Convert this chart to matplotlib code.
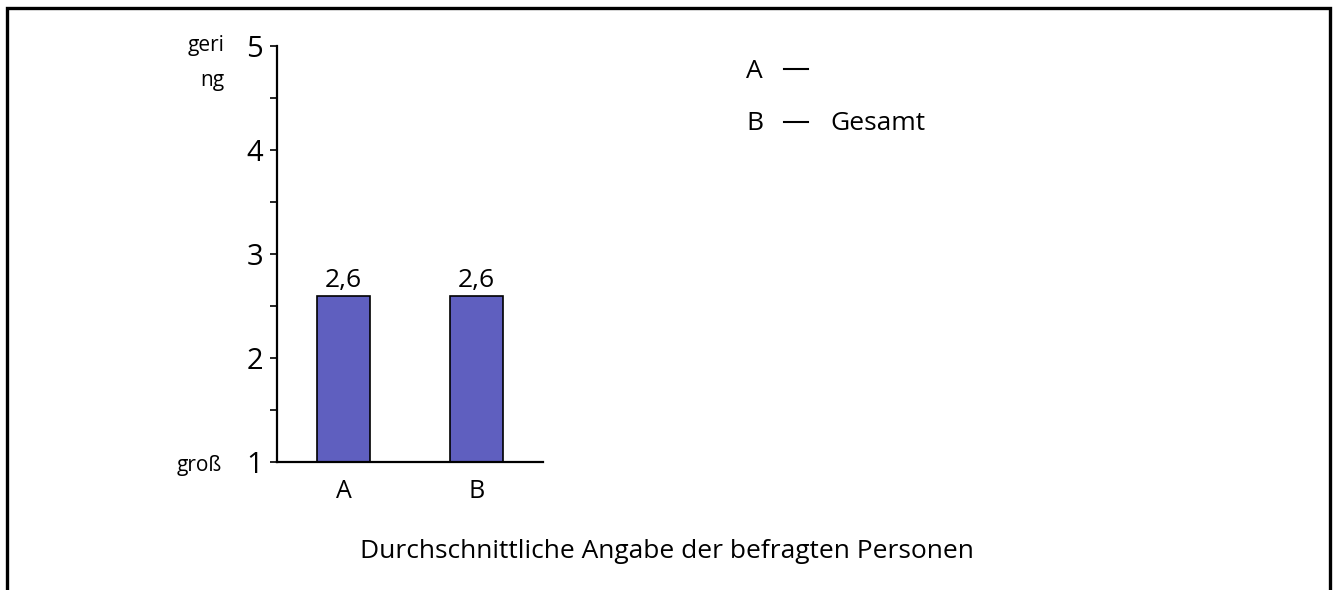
import matplotlib.pyplot as plt
from matplotlib.lines import Line2D

plt.rcParams['font.family'] = ['Open Sans', 'DejaVu Sans']

# Daten
categories = ['A', 'B']
values = [2.6, 2.6]
value_labels = ['2,6', '2,6']
legend_keys = ['A', 'B']
legend_names = ['', 'Gesamt']
y_ticks = [1, 2, 3, 4, 5]

fig = plt.figure(figsize=(13.37, 5.9), dpi=100)
ax = fig.add_axes([0.2072, 0.2169, 0.1989, 0.705])

x = list(range(len(categories)))
ax.bar(x, [v - 1 for v in values], bottom=1, width=0.4,
       color='#5f5fbf', edgecolor='black', linewidth=1.2)

for xi, v, lab in zip(x, values, value_labels):
    ax.text(xi, v + 0.03, lab, ha='center', va='bottom', fontsize=19)

ax.set_xlim(-0.5, 1.5)
ax.set_ylim(1, 5)
ax.set_xticks(x)
ax.set_xticklabels(categories, fontsize=18)
ax.set_yticks(y_ticks)
ax.set_yticklabels([str(t) for t in y_ticks], fontsize=21)
ax.set_yticks([1.5, 2.5, 3.5, 4.5], minor=True)
ax.tick_params(axis='x', length=0, pad=12)
ax.tick_params(axis='y', which='both', length=5, width=1.2, pad=5)

for s in ['top', 'right']:
    ax.spines[s].set_visible(False)
ax.spines['left'].set_linewidth(1.6)
ax.spines['bottom'].set_linewidth(1.6)

# Skalenbeschriftung links
fig.text(224 / 1337, 1 - 46 / 590, 'geri', ha='right', va='center', fontsize=15)
fig.text(224 / 1337, 1 - 81 / 590, 'ng', ha='right', va='center', fontsize=15)
fig.text(222 / 1337, 1 - 465 / 590, 'groß', ha='right', va='center', fontsize=15)

# Legende als Text
for i, (k, n) in enumerate(zip(legend_keys, legend_names)):
    yy = 1 - (71 + i * 53) / 590
    fig.text(746 / 1337, yy, k, ha='left', va='center', fontsize=19)
    fig.add_artist(Line2D([784 / 1337, 808 / 1337], [yy + 0.003, yy + 0.003],
                          transform=fig.transFigure, color='black', lw=1.5))
    if n:
        fig.text(830 / 1337, yy, n, ha='left', va='center', fontsize=19)

fig.text(667 / 1337, 1 - 551 / 590, 'Durchschnittliche Angabe der befragten Personen',
         ha='center', va='center', fontsize=19)

# Rahmen (nach unten offen)
fig.add_artist(Line2D([7 / 1337, 7 / 1337, 1330 / 1337, 1330 / 1337],
                      [0, 1 - 8 / 590, 1 - 8 / 590, 0],
                      transform=fig.transFigure, color='black', lw=2.4,
                      solid_joinstyle='miter'))

fig.savefig('out.png', dpi=100)
